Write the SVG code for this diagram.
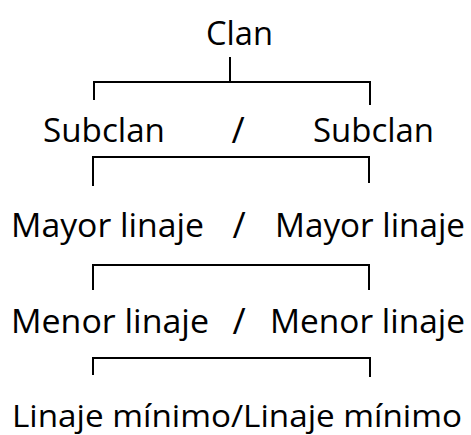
<svg xmlns="http://www.w3.org/2000/svg" width="471" height="435" viewBox="0 0 471 435">
<style>
text{font-family:"Open Sans","Noto Sans","Liberation Sans",sans-serif;font-size:33px;fill:#000}
.s{font-size:36px}
.m{font-size:31px}
.c line,.c path{stroke:#000;stroke-width:2;fill:none}
</style>
<rect width="471" height="435" fill="#fff"/>
<g class="c" id="connectors">
<line x1="230" y1="57" x2="230" y2="82"/>
<path d="M94,100 V82 H370 V105"/>
<path d="M93,186 V157 H369 V183"/>
<path d="M93,290 V265 H369 V290"/>
<path d="M93,375 V358 H370 V377"/>
</g>
<g id="clan"><text x="206" y="45" textLength="67" lengthAdjust="spacingAndGlyphs">Clan</text></g>
<g id="subclan-left"><text x="43" y="142" textLength="122" lengthAdjust="spacingAndGlyphs">Subclan</text></g>
<g id="sep1"><text class="s" x="238" y="143" text-anchor="middle">/</text></g>
<g id="subclan-right"><text x="313" y="142" textLength="121" lengthAdjust="spacingAndGlyphs">Subclan</text></g>
<g id="mayor-left"><text x="11" y="237" textLength="193" lengthAdjust="spacingAndGlyphs">Mayor linaje</text></g>
<g id="sep2"><text class="s" x="239" y="238" text-anchor="middle">/</text></g>
<g id="mayor-right"><text x="275" y="237" textLength="190" lengthAdjust="spacingAndGlyphs">Mayor linaje</text></g>
<g id="menor-left"><text x="11" y="333" textLength="198" lengthAdjust="spacingAndGlyphs">Menor linaje</text></g>
<g id="sep3"><text class="s" x="239" y="334" text-anchor="middle">/</text></g>
<g id="menor-right"><text x="270" y="333" textLength="195" lengthAdjust="spacingAndGlyphs">Menor linaje</text></g>
<g id="minimo"><text class="m" x="12" y="427" textLength="450" lengthAdjust="spacingAndGlyphs">Linaje mínimo/Linaje mínimo</text></g>
</svg>
